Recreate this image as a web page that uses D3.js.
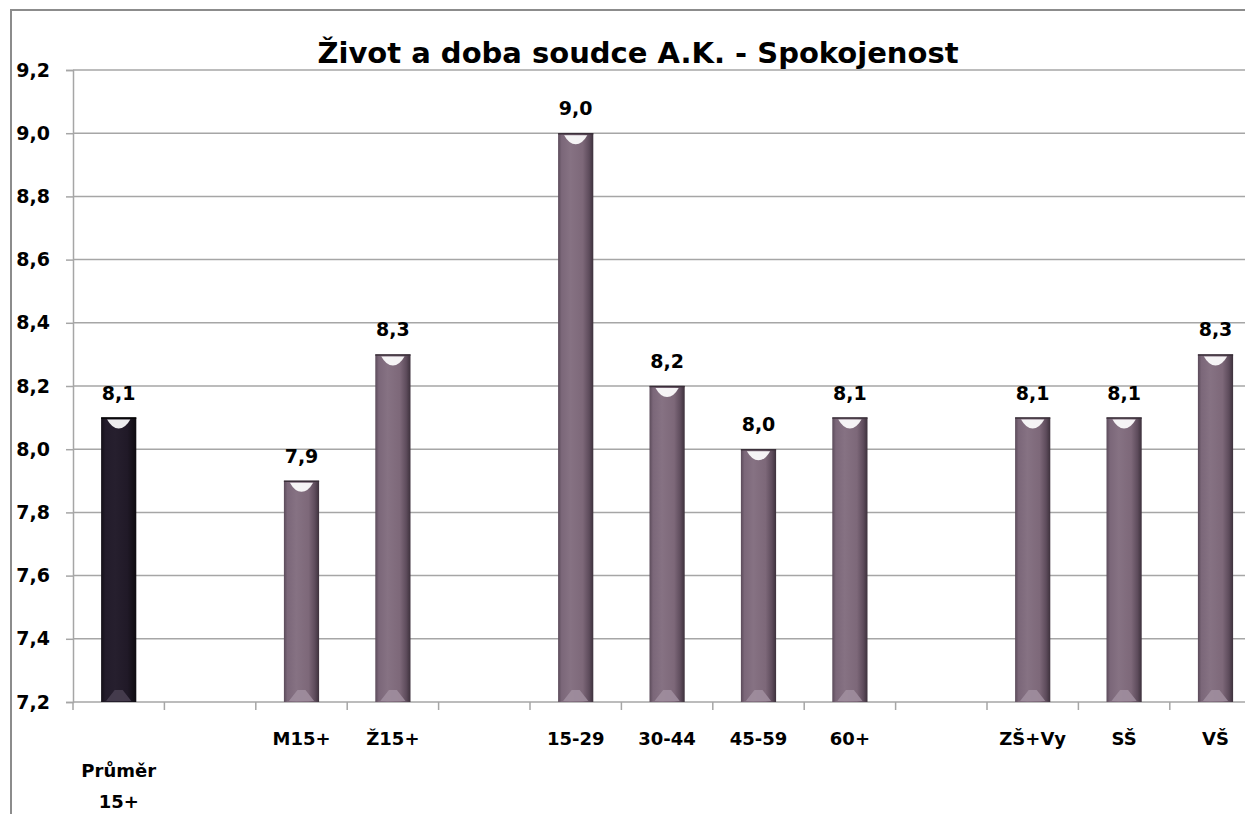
<!DOCTYPE html>
<html>
<head>
<meta charset="utf-8">
<script src="https://cdn.jsdelivr.net/npm/d3@7/dist/d3.min.js"></script>
<style>
  html, body { margin: 0; padding: 0; background: #fff; }
  svg { display: block; font-family: "DejaVu Sans", Verdana, sans-serif; font-weight: bold; }
</style>
</head>
<body>
<div id="chart"></div>
<script>
// chart data
const title = 'Život a doba soudce A.K. - Spokojenost';
const categories = ['Průměr 15+', '', 'M15+', 'Ž15+', '', '15-29', '30-44', '45-59', '60+', '', 'ZŠ+Vy', 'SŠ', 'VŠ'];
const values = [8.1, null, 7.9, 8.3, null, 9.0, 8.2, 8.0, 8.1, null, 8.1, 8.1, 8.3];
const yTicks = [7.2, 7.4, 7.6, 7.8, 8.0, 8.2, 8.4, 8.6, 8.8, 9.0, 9.2];

const width = 1245, height = 814;
const margin = { top: 70, left: 73, bottom: 702 };
const step = 91.4;

const cz = d3.formatLocale({ decimal: ',', thousands: ' ', grouping: [3], currency: ['', ' Kč'] });
const fmt = cz.format('.1f');

const svg = d3.select('#chart').append('svg')
  .attr('width', width)
  .attr('height', height);

const defs = svg.append('defs');

// horizontal shading for the bars
function addGradient(id, stops) {
  const g = defs.append('linearGradient').attr('id', id)
    .attr('x1', '0%').attr('x2', '100%').attr('y1', '0%').attr('y2', '0%');
  stops.forEach(s => g.append('stop').attr('offset', s[0]).attr('stop-color', s[1]));
}
addGradient('barFill', [
  ['0%', '#5b4b5a'], ['10%', '#7b6779'], ['35%', '#867283'],
  ['70%', '#7d6879'], ['88%', '#5e4c5c'], ['100%', '#3d313c']
]);
addGradient('avgFill', [
  ['0%', '#141018'], ['12%', '#231c2b'], ['40%', '#261f2e'],
  ['75%', '#201927'], ['100%', '#0e0b10']
]);

// outer chart border
svg.append('rect')
  .attr('x', 11).attr('y', 10)
  .attr('width', 1400).attr('height', 1000)
  .attr('fill', 'none')
  .attr('stroke', '#8c8c8c')
  .attr('stroke-width', 2);

const x = d3.scaleBand()
  .domain(d3.range(categories.length))
  .range([margin.left, margin.left + step * categories.length])
  .padding(0);

const y = d3.scaleLinear()
  .domain([7.2, 9.2])
  .range([margin.bottom, margin.top]);

// gridlines + y axis
const yAxis = d3.axisLeft(y)
  .tickValues(yTicks)
  .tickFormat(fmt)
  .tickSize(7)
  .tickPadding(16);

svg.append('g')
  .selectAll('line')
  .data(yTicks)
  .join('line')
  .attr('x1', margin.left)
  .attr('x2', width)
  .attr('y1', d => y(d))
  .attr('y2', d => y(d))
  .attr('stroke', '#a6a6a6')
  .attr('stroke-width', 1.5);

const gy = svg.append('g')
  .attr('transform', `translate(${margin.left},0)`)
  .call(yAxis);
gy.select('.domain').attr('stroke', '#a6a6a6').attr('stroke-width', 1.5);
gy.selectAll('.tick line').attr('stroke', '#a6a6a6').attr('stroke-width', 1.5);
gy.selectAll('.tick text')
  .attr('fill', '#000')
  .style('font-size', '19px')
  .style('font-family', '"DejaVu Sans", sans-serif')
  .style('font-weight', 'bold');

// x axis: ticks between categories
svg.append('g')
  .selectAll('line')
  .data(d3.range(categories.length + 1))
  .join('line')
  .attr('x1', i => x(0) + i * x.step())
  .attr('x2', i => x(0) + i * x.step())
  .attr('y1', margin.bottom)
  .attr('y2', margin.bottom + 8)
  .attr('stroke', '#a6a6a6')
  .attr('stroke-width', 1.5);

// bars
const barW = x.bandwidth() * 0.385;
const bars = svg.append('g')
  .selectAll('g')
  .data(values.map((v, i) => ({ v, i })).filter(d => d.v !== null))
  .join('g')
  .attr('transform', d => `translate(${x(d.i) + (x.bandwidth() - barW) / 2},0)`);

bars.append('rect')
  .attr('x', 0)
  .attr('y', d => y(d.v))
  .attr('width', barW)
  .attr('height', d => y.range()[0] - y(d.v))
  .attr('fill', d => d.i === 0 ? 'url(#avgFill)' : 'url(#barFill)');

// top bevel highlight
bars.append('path')
  .attr('d', d => {
    const t = y(d.v) + 2;
    return `M${6},${t} L${barW - 6},${t} Q${barW - 11},${t + 9} ${barW / 2},${t + 9} Q${11},${t + 9} ${6},${t} Z`;
  })
  .attr('fill', '#fff')
  .attr('opacity', 0.92);

bars.append('line')
  .attr('x1', 0).attr('x2', barW)
  .attr('y1', d => y(d.v) + 0.5).attr('y2', d => y(d.v) + 0.5)
  .attr('stroke', d => d.i === 0 ? '#000' : '#3a2f39')
  .attr('stroke-width', 1.5);

// bottom bevel
bars.append('path')
  .attr('d', () => {
    const b = y.range()[0] - 1;
    return `M${5},${b} L${barW / 2 - 4},${b - 11} L${barW / 2 + 4},${b - 11} L${barW - 5},${b} Z`;
  })
  .attr('fill', d => d.i === 0 ? '#4a4152' : '#a18fa0')
  .attr('opacity', 0.85);

// value labels
svg.append('g')
  .selectAll('text')
  .data(values.map((v, i) => ({ v, i })).filter(d => d.v !== null))
  .join('text')
  .attr('x', d => x(d.i) + x.bandwidth() / 2)
  .attr('y', d => y(d.v) - 18)
  .attr('text-anchor', 'middle')
  .style('font-size', '19px')
  .text(d => fmt(d.v));

// category labels, wrapping when wider than a band
const labels = svg.append('g')
  .selectAll('text')
  .data(categories.map((c, i) => ({ c, i })).filter(d => d.c !== ''))
  .join('text')
  .attr('x', d => x(d.i) + x.bandwidth() / 2)
  .attr('text-anchor', 'middle')
  .style('font-size', '18px');

labels.each(function(d) {
  const t = d3.select(this);
  t.text(d.c);
  const words = d.c.split(' ');
  if (this.getComputedTextLength() > x.bandwidth() * 0.95 && words.length > 1) {
    t.text(null);
    words.forEach((w, k) => {
      t.append('tspan')
        .attr('x', x(d.i) + x.bandwidth() / 2)
        .attr('y', 777 + k * 31)
        .text(w);
    });
  } else {
    t.attr('y', 745);
  }
});

// title
svg.append('text')
  .attr('x', 638)
  .attr('y', 63)
  .attr('text-anchor', 'middle')
  .style('font-size', '29px')
  .text(title);
</script>
</body>
</html>
